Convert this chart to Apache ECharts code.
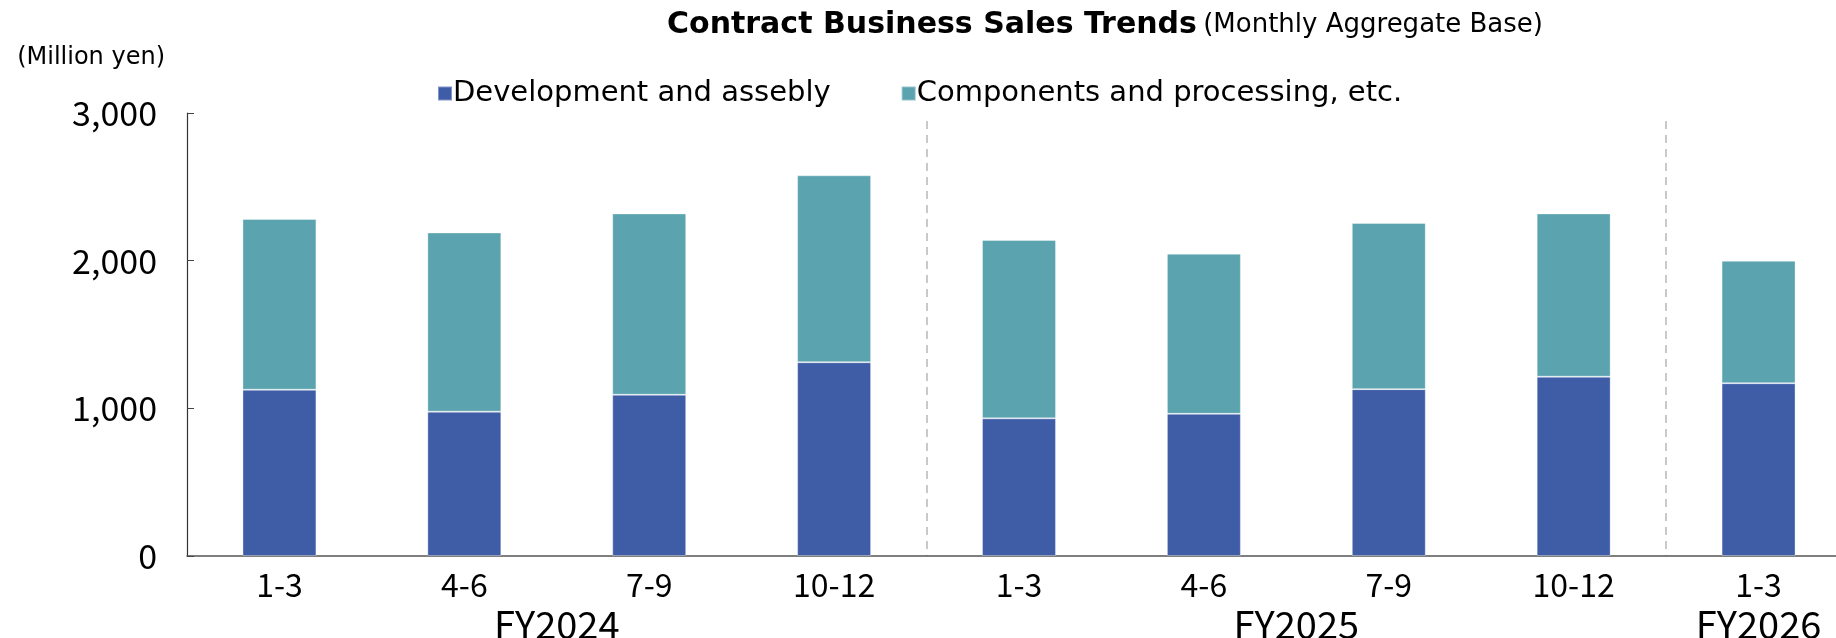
<!DOCTYPE html>
<html>
<head>
<meta charset="utf-8">
<script src="https://cdn.jsdelivr.net/npm/echarts@6/dist/echarts.min.js"></script>
<style>
  html, body { margin: 0; padding: 0; background: #fff; }
  #chart { width: 1836px; height: 638px; }
</style>
</head>
<body>
<div id="chart"></div>
<script>
// 四半期ラベル
const quarters = ['1-3', '4-6', '7-9', '10-12', '1-3', '4-6', '7-9', '10-12', '1-3']
// 年度と、その年度の四半期数
const fiscalYears = ['FY2024', 'FY2025', 'FY2026']
const quartersPerYear = [4, 4, 1]

const seriesNames = ['Development and assebly', 'Components and processing, etc.']
// 開発・組立
const devValues = [1126, 977, 1092, 1312, 932, 963, 1130, 1214, 1170]
// 部品・加工など
const compValues = [1156, 1214, 1228, 1266, 1208, 1084, 1125, 1106, 829]

const NUM_FONT = '"Noto Sans CJK JP", "Noto Sans", sans-serif'
const TXT_FONT = '"DejaVu Sans", sans-serif'

// 年度ラベルの位置（グループの中心）と区切り位置
const fyCenters = {}
const boundaries = []
let acc = 0
fiscalYears.forEach((fy, i) => {
  fyCenters[acc + quartersPerYear[i] / 2] = fy
  acc += quartersPerYear[i]
  boundaries.push(acc)
})

const chart = echarts.init(document.getElementById('chart'))

chart.setOption({
  animation: false,
  textStyle: { fontFamily: TXT_FONT },
  title: {
    text: '{a|Contract Business Sales Trends} {b|(Monthly Aggregate Base)}',
    left: 662,
    top: 5,
    textStyle: {
      rich: {
        a: { fontSize: 30, fontWeight: 'bold', color: '#000', fontFamily: TXT_FONT },
        b: { fontSize: 26, fontWeight: 'normal', color: '#000', fontFamily: TXT_FONT }
      }
    }
  },
  legend: {
    left: 432,
    top: 74,
    itemWidth: 14,
    itemHeight: 14,
    itemGap: 70,
    icon: 'rect',
    textStyle: { fontSize: 29, color: '#000', fontFamily: TXT_FONT, padding: [0, 0, 0, -4] },
    data: seriesNames
  },
  // プロット領域は右端からはみ出している
  grid: [
    { left: 187, width: 1664, top: 113, bottom: 82, outerBoundsMode: 'none', containLabel: false },
    { left: 187, width: 1664, top: 121, bottom: 82, outerBoundsMode: 'none', containLabel: false }
  ],
  xAxis: [
    {
      type: 'category',
      gridIndex: 0,
      data: quarters,
      axisLine: { lineStyle: { color: '#555', width: 1.5 } },
      axisTick: { inside: true, length: 8, lineStyle: { color: '#444' } },
      axisLabel: { fontSize: 32, color: '#000', margin: 13, fontFamily: NUM_FONT }
    },
    {
      // 年度ラベル
      type: 'value',
      gridIndex: 0,
      position: 'bottom',
      min: 0,
      max: acc,
      interval: 0.5,
      axisLine: { show: false },
      axisTick: { show: false },
      splitLine: { show: false },
      axisLabel: {
        fontSize: 38,
        color: '#000',
        margin: 50,
        fontFamily: NUM_FONT,
        formatter: v => fyCenters[v] || ''
      }
    },
    {
      // 年度の区切り線
      type: 'value',
      gridIndex: 1,
      min: 0,
      max: acc,
      interval: boundaries[0],
      axisLine: { show: false },
      axisTick: { show: false },
      axisLabel: { show: false },
      splitLine: {
        show: true,
        showMinLine: false,
        lineStyle: { type: [8, 6], color: '#b8b8b8', width: 1.5 }
      }
    }
  ],
  yAxis: [
    {
      type: 'value',
      gridIndex: 0,
      min: 0,
      max: 3000,
      interval: 1000,
      name: '(Million yen)',
      nameLocation: 'end',
      nameGap: 43,
      nameTextStyle: { fontSize: 24, color: '#000', align: 'right', padding: [0, 22, 0, 0], fontFamily: TXT_FONT },
      axisLine: { show: true, lineStyle: { color: '#333', width: 1.2 } },
      axisTick: { show: true, inside: true, length: 7, lineStyle: { color: '#444' } },
      splitLine: { show: false },
      axisLabel: {
        fontSize: 34,
        color: '#000',
        margin: 30,
        fontFamily: NUM_FONT,
        formatter: v => v.toLocaleString('en-US')
      }
    },
    {
      type: 'value',
      gridIndex: 1,
      min: 0,
      max: 1,
      show: false
    }
  ],
  series: [
    {
      name: seriesNames[0],
      type: 'bar',
      stack: 'total',
      barWidth: '40%',
      data: devValues,
      itemStyle: { color: '#3F5DA7', borderColor: 'rgba(255,255,255,0.35)', borderWidth: 1 }
    },
    {
      name: seriesNames[1],
      type: 'bar',
      stack: 'total',
      barWidth: '40%',
      data: compValues,
      itemStyle: { color: '#5BA3AF', borderColor: 'rgba(255,255,255,0.35)', borderWidth: 1 }
    }
  ]
})

window.addEventListener('resize', () => chart.resize())
</script>
</body>
</html>
